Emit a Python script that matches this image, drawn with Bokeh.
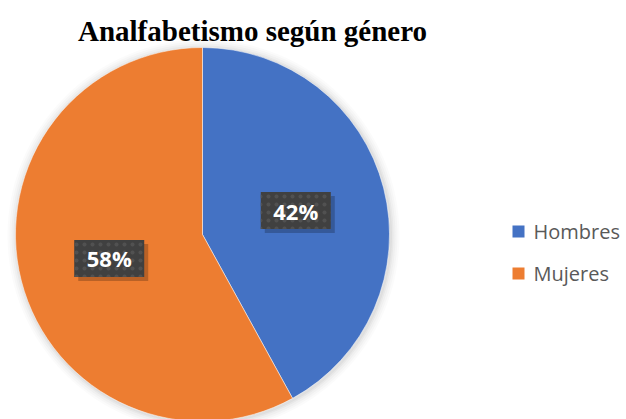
import math
from bokeh.plotting import figure
from bokeh.models import ColumnDataSource
from bokeh.core.properties import value
from bokeh.embed import file_html
from bokeh.resources import INLINE

title_text = "Analfabetismo según género"
categories = ["Hombres", "Mujeres"]
percentages = [42, 58]
colors = ["#4472C4", "#ED7D31"]

W, H = 626, 419
p = figure(width=W, height=H, x_range=(0, W), y_range=(0, H),
           output_backend="svg", toolbar_location=None, min_border=0)
p.axis.visible = False
p.grid.visible = False
p.outline_line_color = None
p.background_fill_color = "white"
p.border_fill_color = "white"

cx, cy, R = 202, H - 234, 187

# soft shadow
for dr, a in [(9, 0.03), (7, 0.04), (5, 0.05), (3, 0.07), (1.5, 0.09)]:
    p.circle(x=[cx + 1], y=[cy - 1], radius=R + dr, fill_color="#808080",
             fill_alpha=a, line_color=None)

total = sum(percentages)
starts, ends, mids = [], [], []
ang = math.pi / 2
for v in percentages:
    s = ang
    e = ang - 2 * math.pi * v / total
    starts.append(s)
    ends.append(e)
    mids.append((s + e) / 2)
    ang = e

src = ColumnDataSource(dict(x=[cx] * 2, y=[cy] * 2, start=starts, end=ends,
                            color=colors, cat=categories))
p.wedge(x="x", y="y", radius=R, start_angle="start", end_angle="end",
        direction="clock", fill_color="color", line_color="white",
        line_width=0.5, source=src)

lx = [cx + 0.515 * R * math.cos(m) for m in mids]
ly = [cy + 0.515 * R * math.sin(m) for m in mids]
labels = [f"{v}%" for v in percentages]
lsrc = ColumnDataSource(dict(x=lx, y=ly, t=labels,
                             sx=[x + 4 for x in lx], sy=[y - 4 for y in ly]))
p.rect(x="sx", y="sy", width=70, height=37, fill_color="#000000", fill_alpha=0.22,
       line_color=None, source=lsrc)
p.rect(x="x", y="y", width=70, height=37, fill_color="#404040", line_color=None,
       hatch_pattern="dot", hatch_color="#515151", hatch_scale=8, hatch_weight=1.5,
       source=lsrc)
p.text(x="x", y="y", text="t", text_align="center", text_baseline="middle",
       text_color="white", text_font=value("Open Sans"), text_font_style="bold",
       text_font_size="22px", source=lsrc)

p.text(x=[252], y=[H - 30], text=[title_text], text_align="center",
       text_baseline="alphabetic", text_color="black",
       text_font=value("Liberation Serif"), text_font_style="bold",
       text_font_size="29px")

# legend
leg_y = [H - 231, H - 273]
lgsrc = ColumnDataSource(dict(x=[518, 518], y=leg_y, color=colors,
                              tx=[533, 533], cat=categories))
p.rect(x="x", y="y", width=12, height=12, fill_color="color", line_color=None,
       source=lgsrc)
p.text(x="tx", y="y", text="cat", text_align="left", text_baseline="middle",
       text_color="#595959", text_font=value("Open Sans"),
       text_font_size="20px", source=lgsrc)

open("out.html", "w").write(file_html(p, INLINE))
